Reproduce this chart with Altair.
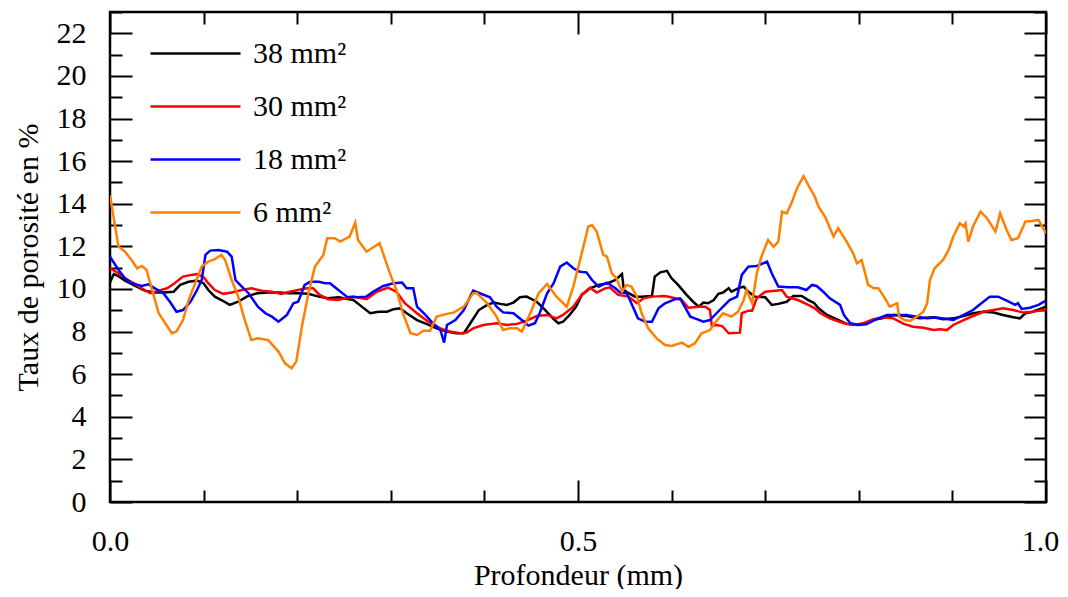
import altair as alt
import pandas as pd

# ---- data ----
series_names = ["38 mm²", "30 mm²", "18 mm²", "6 mm²"]
series_colors = ["#000000", "#ff0000", "#0000ff", "#ff8000"]

x38 = [0.0, 0.004, 0.009, 0.016, 0.027, 0.037, 0.048, 0.057, 0.068, 0.075, 0.084, 0.093, 0.100, 0.105,
       0.112, 0.119, 0.128, 0.137, 0.146, 0.157, 0.169, 0.180, 0.191, 0.201, 0.212, 0.223, 0.233, 0.244,
       0.260, 0.269, 0.278, 0.287, 0.296, 0.303, 0.310, 0.317, 0.328, 0.338, 0.349, 0.360, 0.370, 0.378,
       0.385, 0.394, 0.403, 0.410, 0.417, 0.424, 0.431, 0.438, 0.445, 0.456, 0.465, 0.474, 0.479, 0.484,
       0.491, 0.498, 0.504, 0.513, 0.522, 0.532, 0.540, 0.547, 0.549, 0.554, 0.561, 0.568, 0.579, 0.582,
       0.588, 0.595, 0.600, 0.607, 0.616, 0.623, 0.629, 0.634, 0.639, 0.645, 0.650, 0.655, 0.661, 0.664,
       0.671, 0.677, 0.682, 0.689, 0.700, 0.707, 0.714, 0.723, 0.730, 0.739, 0.746, 0.752, 0.757, 0.766,
       0.776, 0.787, 0.798, 0.807, 0.814, 0.825, 0.837, 0.851, 0.865, 0.880, 0.890, 0.901, 0.912, 0.922,
       0.933, 0.944, 0.954, 0.965, 0.972, 0.978, 0.986, 1.0]
y38 = [10.3, 10.7, 10.6, 10.39, 10.14, 9.92, 9.83, 9.83, 9.87, 10.19, 10.34, 10.39, 10.27, 9.95,
       9.64, 9.48, 9.25, 9.4, 9.64, 9.8, 9.83, 9.83, 9.8, 9.8, 9.77, 9.64, 9.56, 9.61,
       9.48, 9.17, 8.86, 8.93, 8.93, 9.05, 9.09, 8.86, 8.54, 8.36, 8.15, 8.0, 7.92, 7.92,
       8.39, 9.01, 9.25, 9.36, 9.3, 9.25, 9.36, 9.61, 9.64, 9.4, 9.01, 8.58, 8.39, 8.46,
       8.78, 9.17, 9.72, 10.03, 10.19, 10.27, 10.42, 10.7, 9.95, 9.8, 9.64, 9.64, 9.67, 10.58,
       10.78, 10.85, 10.5, 10.19, 9.72, 9.4, 9.17, 9.36, 9.33, 9.48, 9.77, 9.83, 10.03, 9.87,
       10.03, 10.11, 9.87, 9.64, 9.61, 9.25, 9.3, 9.4, 9.67, 9.67, 9.48, 9.35, 9.09, 8.78,
       8.58, 8.36, 8.31, 8.39, 8.54, 8.62, 8.78, 8.73, 8.62, 8.67, 8.58, 8.62, 8.73, 8.86,
       8.93, 8.89, 8.78, 8.67, 8.62, 8.86, 8.93, 9.17]

x30 = [0.0, 0.009, 0.016, 0.025, 0.034, 0.043, 0.052, 0.061, 0.069, 0.078, 0.087, 0.093, 0.100, 0.105,
       0.112, 0.121, 0.130, 0.141, 0.151, 0.162, 0.173, 0.183, 0.192, 0.201, 0.210, 0.217, 0.224, 0.233,
       0.244, 0.251, 0.260, 0.274, 0.285, 0.297, 0.306, 0.315, 0.328, 0.340, 0.353, 0.363, 0.374, 0.381,
       0.388, 0.399, 0.413, 0.424, 0.435, 0.445, 0.456, 0.467, 0.477, 0.484, 0.495, 0.504, 0.513, 0.520,
       0.529, 0.534, 0.543, 0.554, 0.563, 0.570, 0.579, 0.593, 0.604, 0.611, 0.618, 0.629, 0.636, 0.641,
       0.643, 0.648, 0.654, 0.661, 0.673, 0.675, 0.682, 0.686, 0.691, 0.700, 0.711, 0.718, 0.723, 0.735,
       0.746, 0.753, 0.759, 0.769, 0.784, 0.794, 0.805, 0.816, 0.826, 0.837, 0.848, 0.858, 0.869, 0.880,
       0.887, 0.894, 0.901, 0.912, 0.922, 0.933, 0.944, 0.954, 0.965, 0.976, 0.986, 1.0]
y30 = [10.97, 10.74, 10.5, 10.27, 10.03, 9.8, 9.92, 10.03, 10.27, 10.58, 10.66, 10.7, 10.55, 10.27,
       9.95, 9.77, 9.83, 9.95, 10.03, 9.92, 9.87, 9.77, 9.87, 9.95, 10.03, 10.03, 9.72, 9.52,
       9.48, 9.56, 9.64, 9.52, 9.87, 10.06, 9.87, 9.33, 8.86, 8.46, 8.15, 8.0, 7.92, 7.95,
       8.15, 8.31, 8.39, 8.31, 8.36, 8.51, 8.73, 8.78, 8.62, 8.78, 9.17, 9.72, 10.06, 9.83,
       10.03, 10.08, 9.72, 9.64, 9.33, 9.56, 9.64, 9.67, 9.56, 9.48, 9.12, 9.17, 9.17, 9.01,
       8.26, 8.31, 8.26, 7.92, 7.95, 8.86, 8.98, 8.98, 9.56, 9.87, 9.92, 9.95, 9.64, 9.48,
       9.25, 9.09, 8.86, 8.62, 8.39, 8.31, 8.39, 8.58, 8.67, 8.62, 8.36, 8.23, 8.18, 8.07,
       8.11, 8.07, 8.31, 8.54, 8.73, 8.93, 9.01, 9.09, 9.01, 8.89, 8.93, 9.05]

x18 = [0.0, 0.009, 0.016, 0.023, 0.034, 0.041, 0.048, 0.057, 0.064, 0.071, 0.078, 0.086, 0.093, 0.098,
       0.102, 0.107, 0.116, 0.125, 0.130, 0.134, 0.139, 0.148, 0.158, 0.166, 0.173, 0.180, 0.189, 0.196,
       0.201, 0.208, 0.214, 0.223, 0.230, 0.235, 0.244, 0.253, 0.264, 0.274, 0.281, 0.292, 0.303, 0.312,
       0.317, 0.324, 0.328, 0.337, 0.345, 0.353, 0.357, 0.360, 0.369, 0.378, 0.383, 0.388, 0.395, 0.406,
       0.413, 0.420, 0.431, 0.440, 0.447, 0.454, 0.459, 0.467, 0.474, 0.481, 0.488, 0.495, 0.502, 0.509,
       0.515, 0.522, 0.531, 0.540, 0.545, 0.552, 0.557, 0.564, 0.572, 0.579, 0.586, 0.593, 0.604, 0.609,
       0.614, 0.620, 0.627, 0.634, 0.641, 0.648, 0.655, 0.662, 0.670, 0.675, 0.682, 0.691, 0.702, 0.707,
       0.714, 0.725, 0.735, 0.744, 0.750, 0.755, 0.762, 0.769, 0.780, 0.784, 0.791, 0.800, 0.808, 0.819,
       0.830, 0.841, 0.851, 0.862, 0.873, 0.883, 0.894, 0.901, 0.912, 0.922, 0.931, 0.940, 0.949, 0.958,
       0.967, 0.970, 0.974, 0.983, 0.992, 1.0]
y18 = [11.52, 10.9, 10.5, 10.27, 10.14, 10.22, 10.03, 9.8, 9.4, 8.93, 9.01, 9.4, 9.95, 10.42,
       11.6, 11.8, 11.83, 11.75, 11.52, 10.42, 10.19, 9.8, 9.17, 8.86, 8.7, 8.46, 8.78, 9.33,
       9.4, 10.19, 10.34, 10.34, 10.27, 10.27, 9.95, 9.64, 9.61, 9.64, 9.87, 10.14, 10.27, 10.3,
       10.03, 10.03, 9.17, 8.78, 8.39, 8.07, 7.48, 8.31, 8.54, 9.01, 9.48, 9.92, 9.8, 9.61,
       9.17, 8.9, 8.86, 8.54, 8.28, 8.39, 8.86, 9.8, 10.27, 11.05, 11.24, 10.97, 10.81, 10.78,
       10.42, 10.11, 10.3, 10.03, 9.83, 9.8, 9.33, 8.62, 8.46, 8.46, 9.09, 9.33, 9.52, 9.56,
       9.17, 8.7, 8.58, 8.46, 8.54, 8.86, 9.17, 9.48, 9.64, 10.66, 11.05, 11.08, 11.28, 10.74,
       10.11, 10.08, 10.08, 9.95, 10.19, 10.14, 9.87, 9.56, 9.25, 8.78, 8.39, 8.31, 8.34, 8.58,
       8.78, 8.78, 8.78, 8.7, 8.62, 8.66, 8.59, 8.54, 8.78, 9.01, 9.33, 9.64, 9.64, 9.45,
       9.25, 9.33, 9.06, 9.12, 9.25, 9.45]

x6 = [0.0, 0.009, 0.016, 0.023, 0.029, 0.034, 0.039, 0.045, 0.052, 0.059, 0.066, 0.071, 0.078, 0.084,
      0.091, 0.098, 0.105, 0.112, 0.119, 0.123, 0.130, 0.137, 0.144, 0.151, 0.158, 0.169, 0.180, 0.187,
      0.194, 0.199, 0.205, 0.212, 0.219, 0.228, 0.232, 0.240, 0.246, 0.256, 0.262, 0.265, 0.274, 0.288,
      0.299, 0.306, 0.313, 0.321, 0.328, 0.335, 0.342, 0.349, 0.360, 0.367, 0.378, 0.388, 0.392, 0.403,
      0.413, 0.420, 0.427, 0.435, 0.440, 0.449, 0.458, 0.467, 0.477, 0.488, 0.495, 0.504, 0.511, 0.515,
      0.520, 0.527, 0.531, 0.536, 0.541, 0.547, 0.552, 0.557, 0.563, 0.568, 0.575, 0.584, 0.593, 0.600,
      0.611, 0.618, 0.625, 0.632, 0.641, 0.646, 0.655, 0.664, 0.671, 0.677, 0.680, 0.686, 0.691, 0.696,
      0.703, 0.709, 0.714, 0.718, 0.723, 0.728, 0.734, 0.741, 0.746, 0.753, 0.757, 0.764, 0.773, 0.778,
      0.787, 0.794, 0.798, 0.803, 0.810, 0.816, 0.821, 0.828, 0.833, 0.841, 0.843, 0.849, 0.855, 0.862,
      0.869, 0.873, 0.876, 0.881, 0.890, 0.896, 0.901, 0.908, 0.912, 0.914, 0.917, 0.922, 0.930, 0.937,
      0.946, 0.951, 0.958, 0.963, 0.970, 0.978, 0.985, 0.992, 1.0]
y6 = [14.4, 12.0, 11.75, 11.36, 10.97, 11.08, 10.9, 9.95, 8.86, 8.39, 7.92, 8.0, 8.54, 9.48,
      10.27, 11.05, 11.28, 11.4, 11.6, 11.36, 10.42, 9.64, 8.54, 7.6, 7.68, 7.6, 7.06, 6.51,
      6.28, 6.59, 8.23, 9.8, 11.05, 11.6, 12.38, 12.38, 12.22, 12.46, 13.11, 12.3, 11.75, 12.15,
      10.74, 9.95, 8.86, 7.92, 7.84, 8.04, 8.04, 8.7, 8.83, 8.89, 9.17, 9.8, 9.8, 9.33,
      8.7, 8.07, 8.15, 8.15, 8.0, 8.86, 9.8, 10.23, 9.64, 9.17, 10.11, 11.67, 12.93, 13.0,
      12.69, 11.6, 11.52, 10.74, 10.5, 9.87, 10.19, 10.11, 9.64, 8.86, 8.15, 7.68, 7.37, 7.32,
      7.48, 7.29, 7.45, 7.92, 8.07, 8.39, 8.86, 8.7, 8.93, 9.48, 9.95, 9.33, 10.74, 11.52,
      12.3, 11.98, 12.22, 13.63, 13.55, 14.02, 14.73, 15.3, 14.88, 14.33, 13.86, 13.39, 12.46, 12.85,
      12.22, 11.67, 11.2, 11.36, 10.19, 10.03, 10.03, 9.56, 9.17, 9.33, 8.7, 8.54, 8.5, 8.7,
      8.93, 9.33, 10.42, 10.97, 11.36, 11.83, 12.46, 13.08, 12.93, 13.08, 12.22, 12.93, 13.63, 13.32,
      12.69, 13.55, 12.77, 12.3, 12.38, 13.16, 13.19, 13.24, 12.61]

x_label_values = [0.0, 0.5, 1.0]
x_tick_values = [i / 10 for i in range(11)]
y_label_values = list(range(0, 23, 2))
y_tick_values = list(range(0, 24))

# ---- build long table ----
frames = []
for name, xs, ys in zip(series_names, [x38, x30, x18, x6], [y38, y30, y18, y6]):
    frames.append(pd.DataFrame({"x": xs, "y": ys, "series": name}))
df = pd.concat(frames, ignore_index=True)

W, H = 936, 490
FONT = "Liberation Serif"
FS = 30

xscale = alt.Scale(domain=[0, 1], nice=False, zero=False)
yscale = alt.Scale(domain=[0, 23], nice=False, zero=False)

x_tick_size = {"condition": {"test": "round(datum.value * 10) % 5 === 0", "value": 22}, "value": 12}
y_tick_size = {"condition": {"test": "round(datum.value) % 2 === 0", "value": 22}, "value": 12}
x_label_shift = {"condition": {"test": "datum.value >= 1", "value": -6}, "value": 0}

lines = alt.Chart(df).mark_line(strokeWidth=2.5, clip=True).encode(
    x=alt.X("x:Q", scale=xscale,
            axis=alt.Axis(values=x_label_values, format=".1f", labelFlush=False, ticks=False, tickSize=0,
                          domain=False, grid=False, labelPadding=24, labelOffset=x_label_shift,
                          title="Profondeur (mm)", titlePadding=4)),
    y=alt.Y("y:Q", scale=yscale,
            axis=alt.Axis(values=y_label_values, ticks=False, tickSize=0, domain=False, grid=False,
                          labelPadding=24, title="Taux de porosité en %", titlePadding=13)),
    color=alt.Color("series:N",
                    scale=alt.Scale(domain=series_names, range=series_colors),
                    legend=alt.Legend(title=None, orient="none", legendX=39, legendY=25,
                                      symbolType="M-1,0H5", symbolSize=900, symbolStrokeWidth=2.5,
                                      labelFontSize=FS, labelFont=FONT, labelOffset=71,
                                      rowPadding=21, padding=0, labelColor="black")),
    order=alt.Order("x:Q"),
)

ticks_a = alt.Chart(df).mark_point(opacity=0).encode(
    x=alt.X("x:Q", scale=xscale,
            axis=alt.Axis(orient="top", offset=-H, values=x_tick_values, labels=False, domain=False,
                          grid=False, ticks=True, tickSize=x_tick_size, tickWidth=2, tickColor="black",
                          title=None)),
    y=alt.Y("y:Q", scale=yscale,
            axis=alt.Axis(orient="right", offset=-W, values=y_tick_values, labels=False, domain=False,
                          grid=False, ticks=True, tickSize=y_tick_size, tickWidth=2, tickColor="black",
                          title=None)),
)

ticks_b = alt.Chart(df).mark_point(opacity=0).encode(
    x=alt.X("x:Q", scale=xscale,
            axis=alt.Axis(orient="bottom", offset=-H, values=x_tick_values, labels=False, domain=False,
                          grid=False, ticks=True, tickSize=x_tick_size, tickWidth=2, tickColor="black",
                          title=None)),
    y=alt.Y("y:Q", scale=yscale,
            axis=alt.Axis(orient="left", offset=-W, values=y_tick_values, labels=False, domain=False,
                          grid=False, ticks=True, tickSize=y_tick_size, tickWidth=2, tickColor="black",
                          title=None)),
)

chart = alt.layer(lines, ticks_a, ticks_b).resolve_axis(
    x="independent", y="independent"
).properties(
    width=W, height=H,
    autosize=alt.AutoSizeParams(type="none"),
    padding={"left": 102, "top": 4, "right": 14, "bottom": 87},
).configure(
    font=FONT,
).configure_axis(
    labelFont=FONT, labelFontSize=FS, titleFont=FONT, titleFontSize=FS,
    labelColor="black", titleColor="black", titleFontWeight="normal",
).configure_view(
    stroke="black", strokeWidth=2.5,
)

chart.save("out.html", embed_options={"renderer": "svg", "actions": False})
